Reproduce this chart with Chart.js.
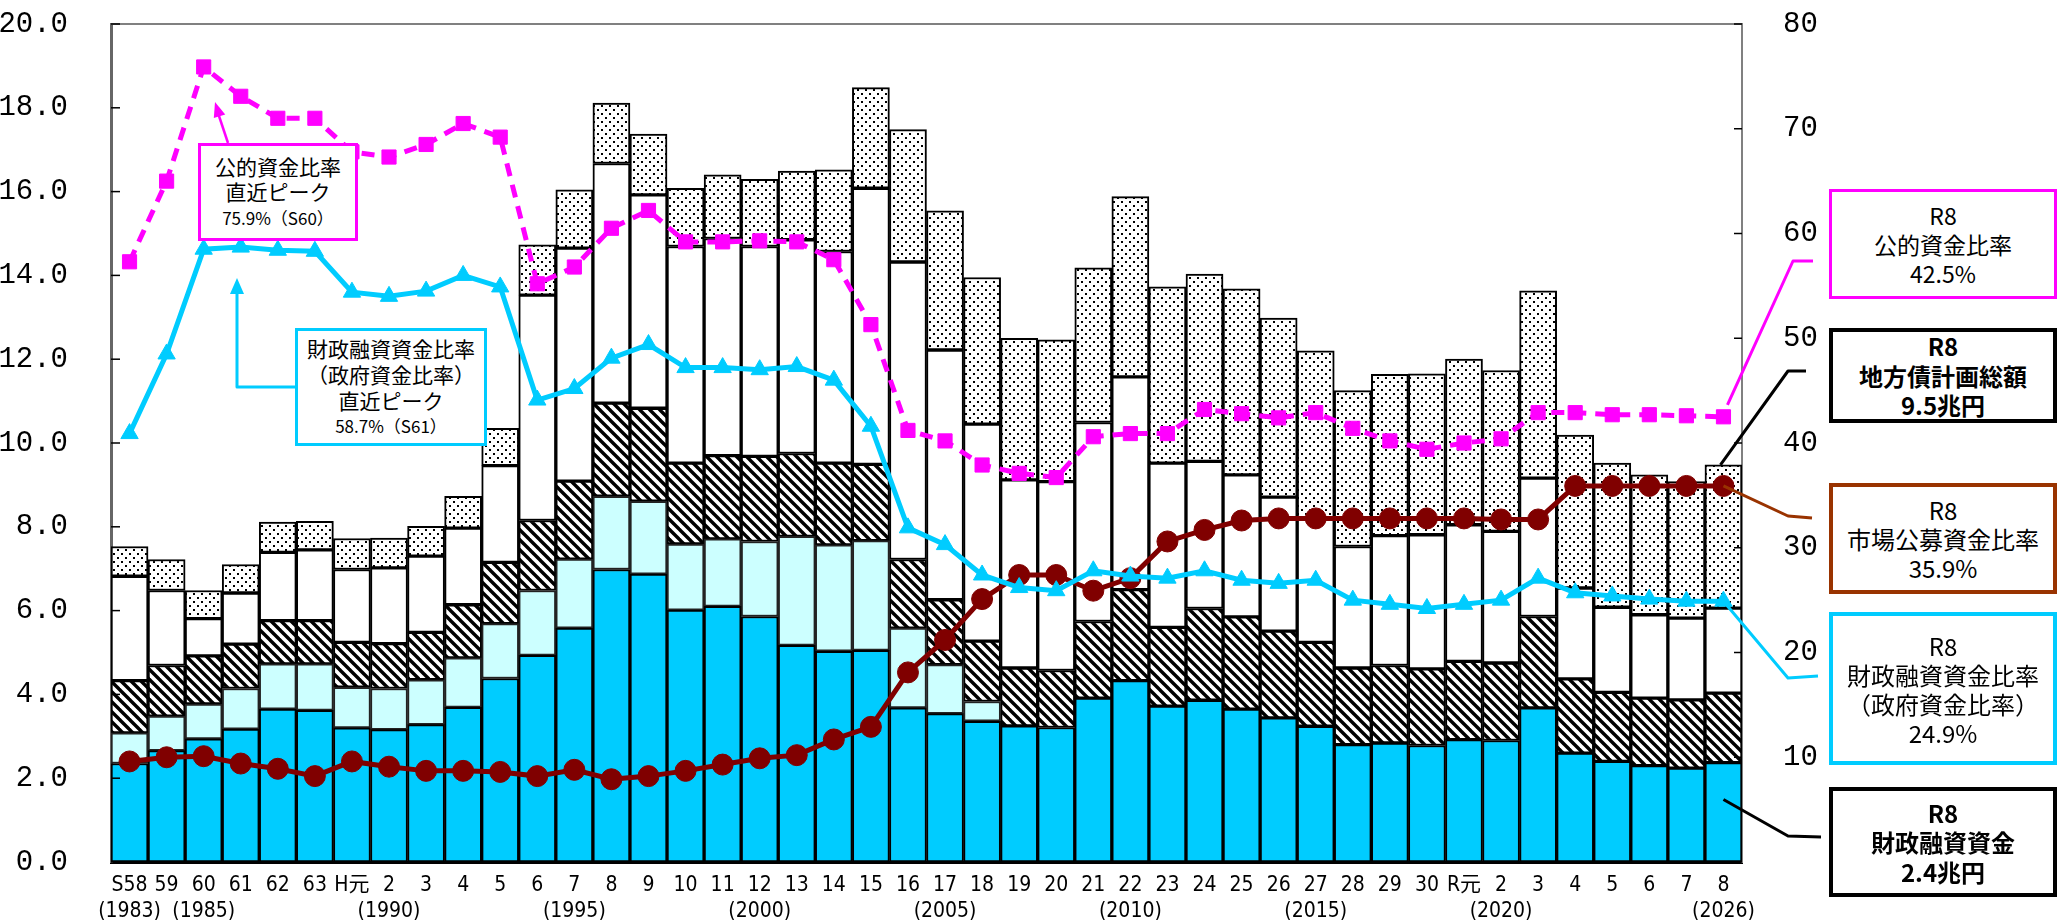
<!DOCTYPE html>
<html>
<head>
<meta charset="utf-8">
<script src="https://cdn.jsdelivr.net/npm/chart.js@4.4.1/dist/chart.umd.min.js"></script>
<style>
html,body{margin:0;padding:0;background:#fff;}
#wrap{position:relative;width:2059px;height:923px;overflow:hidden;}
#c{position:absolute;left:0;top:0;}
.box{position:absolute;box-sizing:border-box;background:#fff;display:flex;flex-direction:column;justify-content:center;align-items:center;font-family:'Noto Sans CJK JP','Noto Sans',sans-serif;color:#000;text-align:center;white-space:nowrap;}
.box div{display:block;}
</style>
</head>
<body>
<div id="wrap">
<canvas id="c" width="2059" height="923"></canvas>

<div class="box" style="left:198px;top:143px;width:160px;height:98px;border:3px solid #FF00FF;font-size:21px;line-height:25.5px;">
  <div>公的資金比率</div><div>直近ピーク</div><div style="font-size:17px;">75.9%（S60）</div>
</div>
<div class="box" style="left:295px;top:328px;width:192px;height:118px;border:3px solid #00CCFF;font-size:21px;line-height:26px;">
  <div>財政融資資金比率</div><div>（政府資金比率）</div><div>直近ピーク</div><div style="font-size:17px;">58.7%（S61）</div>
</div>

<div class="box" style="left:1829px;top:189px;width:228px;height:110px;border:3.5px solid #FF00FF;font-size:23px;line-height:29px;">
  <div>R8</div><div>公的資金比率</div><div>42.5%</div>
</div>
<div class="box" style="left:1829px;top:328px;width:228px;height:95px;border:4px solid #000;font-size:24px;line-height:29.5px;font-weight:bold;">
  <div>R8</div><div>地方債計画総額</div><div>9.5兆円</div>
</div>
<div class="box" style="left:1829px;top:483px;width:228px;height:111px;border:4px solid #993300;font-size:24px;line-height:29px;">
  <div>R8</div><div>市場公募資金比率</div><div>35.9%</div>
</div>
<div class="box" style="left:1829px;top:612px;width:228px;height:153px;border:4px solid #00CCFF;font-size:24px;line-height:29px;">
  <div>R8</div><div>財政融資資金比率</div><div>（政府資金比率）</div><div>24.9%</div>
</div>
<div class="box" style="left:1829px;top:787px;width:228px;height:110px;border:4px solid #000;font-size:24px;line-height:29.5px;font-weight:bold;">
  <div>R8</div><div>財政融資資金</div><div>2.4兆円</div>
</div>
</div>

<script>
// ---- data (兆円 for bars, % for ratio lines) ----
const categories = ['S58','59','60','61','62','63','H元','2','3','4','5','6','7','8','9','10','11','12','13','14','15','16','17','18','19','20','21','22','23','24','25','26','27','28','29','30','R元','2','3','4','5','6','7','8'];
const yearNotes = ['(1983)','','(1985)','','','','','(1990)','','','','','(1995)','','','','','(2000)','','','','','(2005)','','','','','(2010)','','','','','(2015)','','','','','(2020)','','','','','','(2026)'];

const fiscalLoanFunds = [2.35,2.66,2.94,3.17,3.65,3.62,3.20,3.16,3.28,3.69,4.38,4.93,5.58,6.98,6.87,6.01,6.10,5.86,5.17,5.03,5.05,3.68,3.54,3.36,3.25,3.21,3.91,4.33,3.72,3.86,3.65,3.44,3.24,2.80,2.84,2.78,2.92,2.90,3.68,2.60,2.40,2.30,2.24,2.37];
const postalFunds = [0.73,0.82,0.83,0.97,1.08,1.11,0.97,0.98,1.07,1.18,1.31,1.55,1.65,1.75,1.74,1.58,1.61,1.79,2.60,2.54,2.62,1.90,1.17,0.47,null,null,null,null,null,null,null,null,null,null,null,null,null,null,null,null,null,null,null,null];
const agencyFunds = [1.25,1.21,1.15,1.06,1.03,1.03,1.07,1.07,1.13,1.27,1.46,1.67,1.86,2.22,2.22,1.93,1.99,2.03,1.98,1.95,1.82,1.64,1.55,1.44,1.38,1.36,1.83,2.17,1.88,2.19,2.20,2.07,2.00,1.83,1.85,1.83,1.87,1.85,2.18,1.77,1.65,1.61,1.63,1.66];
const bankFunds = [2.49,1.79,0.89,1.22,1.63,1.69,1.74,1.81,1.82,1.83,2.31,5.38,5.56,5.72,5.09,5.17,5.18,5.01,5.10,5.05,6.59,7.10,5.96,5.18,4.49,4.51,4.75,5.08,3.92,3.51,3.39,3.20,2.96,2.90,3.10,3.20,3.26,3.14,3.30,2.17,2.03,1.99,1.95,2.03];
const marketFunds = [0.71,0.74,0.67,0.68,0.72,0.68,0.74,0.71,0.71,0.76,0.89,1.20,1.39,1.44,1.45,1.39,1.52,1.60,1.64,1.95,2.40,3.16,3.32,3.50,3.38,3.38,3.69,4.30,4.21,4.47,4.44,4.27,4.00,3.72,3.85,3.84,3.95,3.84,4.47,3.65,3.44,3.34,3.26,3.42];

const publicRatio = [57.3,65.0,75.9,73.1,71.0,71.0,67.8,67.3,68.5,70.5,69.2,55.2,56.8,60.5,62.2,59.2,59.2,59.3,59.2,57.5,51.3,41.2,40.2,37.9,37.1,36.7,40.6,40.9,40.9,43.2,42.8,42.4,42.9,41.4,40.2,39.4,40.0,40.4,42.9,42.9,42.7,42.7,42.6,42.5];
const fiscalRatio = [40.9,48.5,58.5,58.7,58.4,58.3,54.4,54.0,54.5,56.0,54.9,44.1,45.2,48.1,49.4,47.2,47.2,47.0,47.3,46.0,41.6,31.9,30.3,27.4,26.2,25.9,27.8,27.3,27.1,27.8,26.9,26.6,26.9,25.0,24.6,24.2,24.6,25.0,27.1,25.7,25.4,25.1,24.9,24.9];
const marketRatio = [9.6,10.0,10.1,9.4,8.9,8.2,9.6,9.1,8.7,8.7,8.6,8.2,8.8,7.9,8.2,8.7,9.3,9.9,10.2,11.7,12.9,18.1,21.2,25.1,27.4,27.4,25.9,27.1,30.6,31.7,32.6,32.8,32.8,32.8,32.8,32.8,32.8,32.7,32.7,35.9,35.9,35.9,35.9,35.9];

const leftTicks = [0,2,4,6,8,10,12,14,16,18,20];
const rightTicks = [0,10,20,30,40,50,60,70,80];

// ---- patterns ----
function hatchPattern(){
  const c=document.createElement('canvas'); c.width=10; c.height=10;
  const g=c.getContext('2d'); g.fillStyle='#fff'; g.fillRect(0,0,10,10);
  g.strokeStyle='#000'; g.lineWidth=3.4; g.lineCap='square';
  for(const k of [-10,0,10]){ g.beginPath(); g.moveTo(k-5,-5); g.lineTo(k+15,15); g.stroke(); }
  return g.createPattern(c,'repeat');
}
function dotPattern(){
  const c=document.createElement('canvas'); c.width=8; c.height=8;
  const g=c.getContext('2d'); g.fillStyle='#fff'; g.fillRect(0,0,8,8);
  g.fillStyle='#000'; g.fillRect(1,1,2,2); g.fillRect(5,5,2,2);
  return g.createPattern(c,'repeat');
}

const xLabels = categories.map((c,i)=>[c, yearNotes[i]]);
const numFont = "'Liberation Mono','DejaVu Sans Mono',monospace";
const narrowFont = "'Liberation Sans Narrow','DejaVu Sans Condensed','Noto Sans CJK JP',sans-serif";

function arrowHead(ctx, fx, fy, tx, ty, len, hw){
  const a=Math.atan2(ty-fy, tx-fx);
  ctx.beginPath();
  ctx.moveTo(tx,ty);
  ctx.lineTo(tx-len*Math.cos(a)+hw*Math.sin(a), ty-len*Math.sin(a)-hw*Math.cos(a));
  ctx.lineTo(tx-len*Math.cos(a)-hw*Math.sin(a), ty-len*Math.sin(a)+hw*Math.cos(a));
  ctx.closePath(); ctx.fill();
}
function poly(ctx, pts){ ctx.beginPath(); ctx.moveTo(pts[0][0],pts[0][1]); for(let i=1;i<pts.length;i++) ctx.lineTo(pts[i][0],pts[i][1]); ctx.stroke(); }

const decor = {
  id:'decor',
  afterDatasetsDraw(chart){
    const ctx=chart.ctx, a=chart.chartArea, xs=chart.scales.x, y=chart.scales.y, y2=chart.scales.y2;
    ctx.save();
    // frame top
    ctx.strokeStyle='#808080'; ctx.lineWidth=2;
    poly(ctx, [[a.left,a.top],[a.right,a.top]]);
    // inward tick marks
    ctx.strokeStyle='#000'; ctx.lineWidth=1.5;
    leftTicks.forEach(v=>{ const p=y.getPixelForValue(v); poly(ctx, [[a.left,p],[a.left+9,p]]); });
    rightTicks.forEach(v=>{ const p=y2.getPixelForValue(v); poly(ctx, [[a.right-8,p],[a.right,p]]); });

    // connectors to right-hand boxes
    const last = categories.length-1, xp = xs.getPixelForValue(last);
    const total = fiscalLoanFunds[last]+(postalFunds[last]||0)+agencyFunds[last]+bankFunds[last]+marketFunds[last];
    ctx.lineWidth=3; ctx.lineJoin='round';
    ctx.strokeStyle='#FF00FF';
    poly(ctx, [[xp+4, y2.getPixelForValue(publicRatio[last])-12],[1793,261],[1813,261]]);
    ctx.strokeStyle='#000';
    poly(ctx, [[xp-3, y.getPixelForValue(total)],[1788,371],[1806,371]]);
    ctx.strokeStyle='#993300';
    poly(ctx, [[xp, y2.getPixelForValue(marketRatio[last])],[1788,516],[1812,518]]);
    ctx.strokeStyle='#00CCFF';
    poly(ctx, [[xp, y2.getPixelForValue(fiscalRatio[last])],[1788,678],[1818,676]]);
    ctx.strokeStyle='#000';
    poly(ctx, [[xp, y.getPixelForValue(fiscalLoanFunds[last]*0.63)],[1788,836],[1821,837]]);

    // arrows from left boxes to peaks
    ctx.strokeStyle='#FF00FF'; ctx.fillStyle='#FF00FF'; ctx.lineWidth=2.5;
    poly(ctx, [[228,143],[217,110]]);
    arrowHead(ctx, 228,143, 215,102, 15, 6);
    ctx.strokeStyle='#00CCFF'; ctx.fillStyle='#00CCFF'; ctx.lineWidth=3;
    poly(ctx, [[295,387],[237,387],[237,290]]);
    arrowHead(ctx, 237,387, 237,278, 16, 7);
    ctx.restore();
  }
};

const barCommon = {type:'bar', yAxisID:'y', stack:'s', order:10, borderColor:'#000', borderWidth:2, borderSkipped:false, barPercentage:1, categoryPercentage:1};

new Chart(document.getElementById('c'), {
  type:'bar',
  data:{
    labels:xLabels,
    datasets:[
      {type:'line', label:'財政融資資金比率', data:fiscalRatio, yAxisID:'y2', order:0, borderColor:'#00CCFF', backgroundColor:'#00CCFF', borderWidth:5, pointStyle:'triangle', pointRadius:10, pointBorderWidth:1, tension:0},
      {type:'line', label:'公的資金比率', data:publicRatio, yAxisID:'y2', order:1, borderColor:'#FF00FF', backgroundColor:'#FF00FF', borderWidth:5, borderDash:[13,9], pointStyle:'rect', pointRadius:10, pointBorderWidth:1, tension:0},
      {type:'line', label:'市場公募資金比率', data:marketRatio, yAxisID:'y2', order:2, borderColor:'#800000', backgroundColor:'#800000', borderWidth:5, pointStyle:'circle', pointRadius:10.5, pointBorderWidth:1, tension:0},
      Object.assign({label:'財政融資資金', data:fiscalLoanFunds, backgroundColor:'#00CCFF'}, barCommon),
      Object.assign({label:'旧郵貯・簡保資金', data:postalFunds, backgroundColor:'#CCFFFF'}, barCommon, {borderColor:'#222'}),
      Object.assign({label:'機構資金', data:agencyFunds, backgroundColor:hatchPattern()}, barCommon),
      Object.assign({label:'銀行等引受資金', data:bankFunds, backgroundColor:'#FFFFFF'}, barCommon),
      Object.assign({label:'市場公募資金', data:marketFunds, backgroundColor:dotPattern()}, barCommon)
    ]
  },
  options:{
    responsive:false, animation:false,
    layout:{padding:{left:0,right:237,top:24,bottom:0}},
    plugins:{legend:{display:false}, tooltip:{enabled:false}},
    scales:{
      x:{stacked:true, offset:true, grid:{display:false, drawTicks:false}, border:{display:true,color:'#000',width:3},
         ticks:{color:'#000', padding:10, autoSkip:false, maxRotation:0, minRotation:0, font:{family:narrowFont, size:21, lineHeight:1.25}},
         afterFit(s){ s.height=61; }},
      y:{stacked:true, position:'left', min:0, max:20, grid:{display:false, drawTicks:false}, border:{display:true,color:'#666',width:3},
         ticks:{stepSize:2, color:'#000', padding:43, font:{family:numFont, size:29}, callback:v=>Number(v).toFixed(1)},
         afterFit(s){ s.width=111; s.paddingTop=0; s.paddingBottom=0; }},
      y2:{position:'right', min:0, max:80, grid:{display:false, drawTicks:false}, border:{display:true,color:'#808080',width:2},
         ticks:{stepSize:10, color:'#000', padding:41, font:{family:numFont, size:29}, callback:v=> v===0 ? '' : String(v)},
         afterFit(s){ s.width=80; s.paddingTop=0; s.paddingBottom=0; }}
    }
  },
  plugins:[decor]
});
</script>
</body>
</html>
